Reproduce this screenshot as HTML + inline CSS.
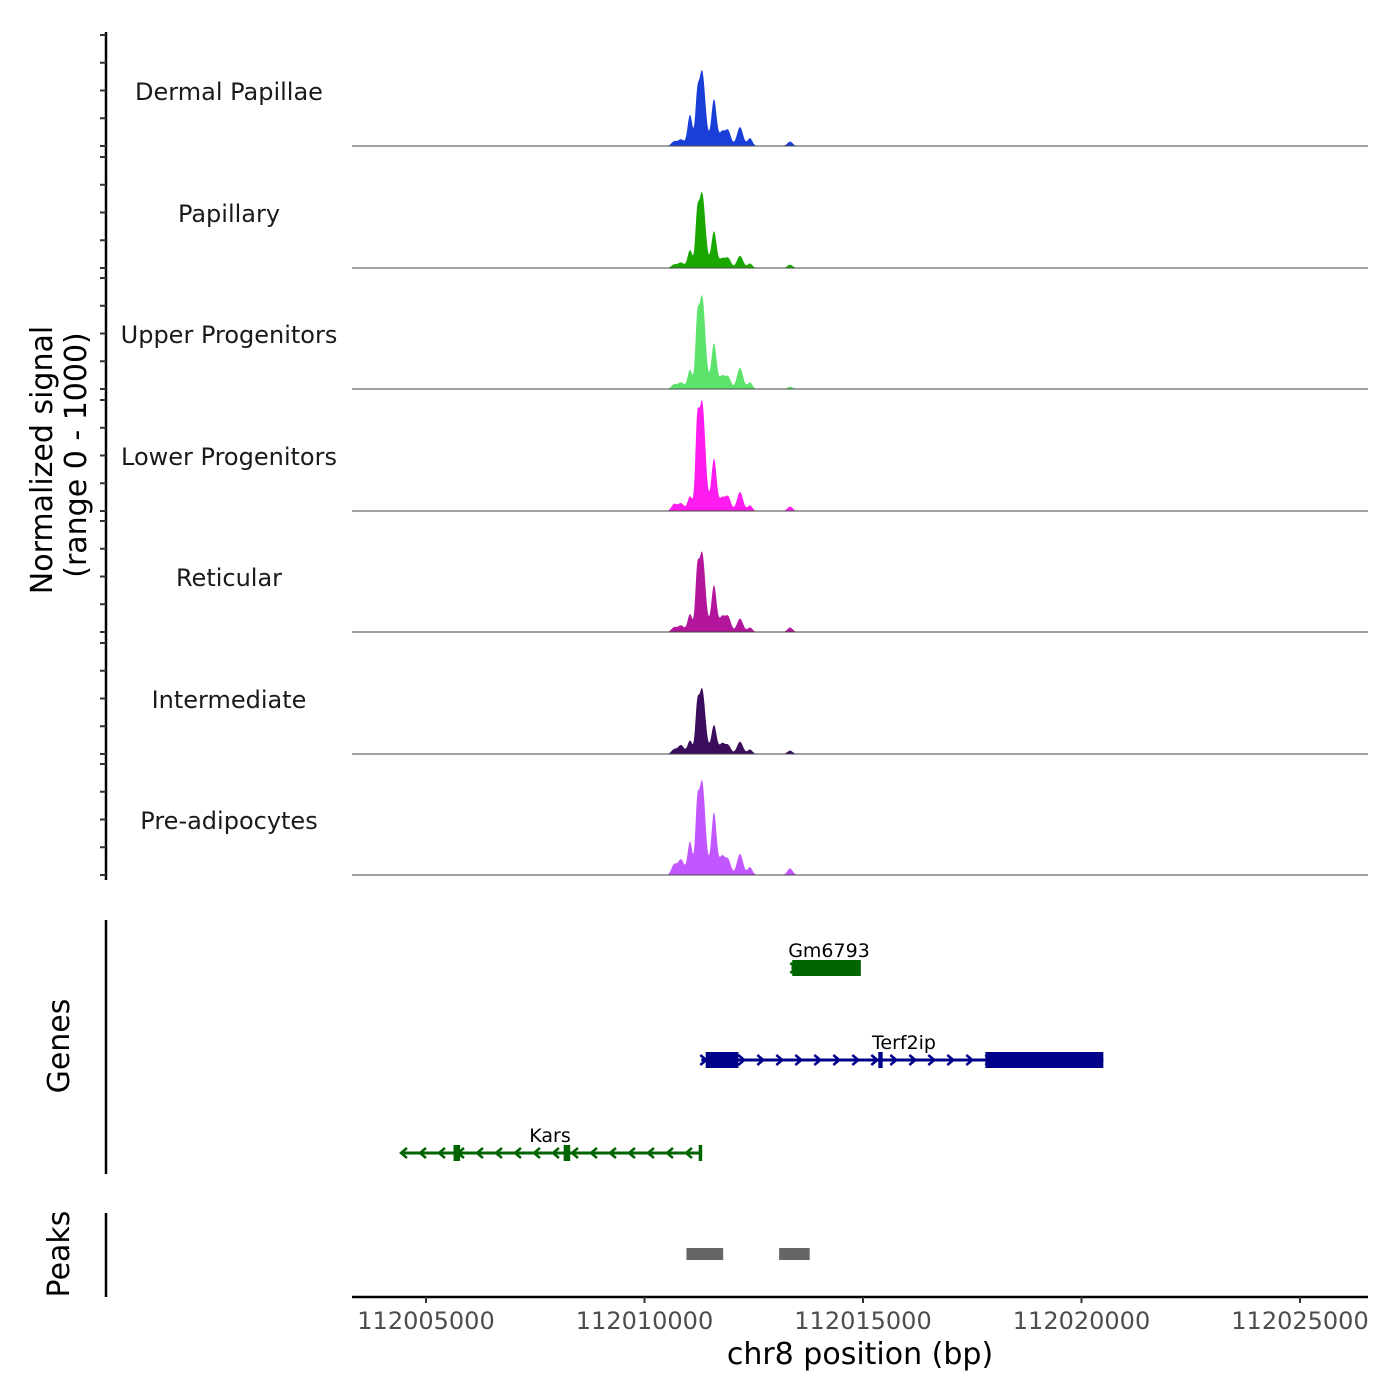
<!DOCTYPE html>
<html><head><meta charset="utf-8">
<style>
html,body{margin:0;padding:0;background:#fff;}
svg{display:block;font-family:"DejaVu Sans","Liberation Sans",sans-serif;}
</style></head>
<body>
<svg id="chart" width="1400" height="1400" viewBox="0 0 1400 1400">
<g id="tracks"></g>
<g id="yaxis"></g>
<text transform="translate(52,460) rotate(-90)" text-anchor="middle" font-size="30" fill="#000">Normalized signal</text>
<text transform="translate(86,455) rotate(-90)" text-anchor="middle" font-size="30" fill="#000">(range 0 - 1000)</text>
<line x1="106" y1="920" x2="106" y2="1174" stroke="#000" stroke-width="2.5"/>
<text transform="translate(69,1046) rotate(-90)" text-anchor="middle" font-size="30">Genes</text>
<line x1="106" y1="1213" x2="106" y2="1297" stroke="#000" stroke-width="2.5"/>
<text transform="translate(69,1254) rotate(-90)" text-anchor="middle" font-size="30">Peaks</text>
<g id="genes"></g>
<g id="peaks"></g>
<g id="xaxis"></g>
<text x="860" y="1364" text-anchor="middle" font-size="30">chr8 position (bp)</text>
</svg>
<script>
const trackNames = ["Dermal Papillae","Papillary","Upper Progenitors","Lower Progenitors","Reticular","Intermediate","Pre-adipocytes"];
const trackColors = ["#1a3fd9","#1aa800","#5de36b","#ff1cee","#b3169c","#3a0e5c","#c257ff"];
const peakCenters = [112010675,112010835,112011041,112011200,112011316,112011590,112011773,112011911,112012185,112012414,112013330];
const peakWidths = [60,70,55,40,75,60,60,65,70,55,60];
const sigDermalPapillae = [40,60,280,300,680,420,120,140,170,70,40];
const sigPapillary = [30,50,160,330,680,330,80,90,110,40,30];
const sigUpperProgenitors = [40,60,170,420,840,410,110,110,190,60,20];
const sigLowerProgenitors = [60,70,130,560,990,470,110,130,170,50,40];
const sigReticular = [40,60,160,380,720,420,130,140,120,40,40];
const sigIntermediate = [40,80,120,300,590,260,90,80,110,40,30];
const sigPreAdipocytes = [90,140,300,430,850,560,160,140,190,70,60];
const trackSignals = [sigDermalPapillae,sigPapillary,sigUpperProgenitors,sigLowerProgenitors,sigReticular,sigIntermediate,sigPreAdipocytes];
const xTicks = [112005000,112010000,112015000,112020000,112025000];
const xTickLabels = ["112005000","112010000","112015000","112020000","112025000"];
const geneNames = ["Gm6793","Terf2ip","Kars"];
const geneStarts = [112013360,112011300,112004450];
const geneEnds = [112014950,112020500,112011300];
const geneStrands = ["+","+","-"];
const geneColors = ["#006400","#00008b","#006400"];
const exonGene = [0,1,1,1,2,2,2];
const exonStarts = [112013380,112011400,112015350,112017800,112005630,112008150,112011240];
const exonEnds = [112014950,112012150,112015450,112020500,112005780,112008300,112011320];
const peakStarts = [112010960,112013080];
const peakEnds = [112011800,112013780];

const NS="http://www.w3.org/2000/svg";
function mk(tag,attrs,parent){const e=document.createElementNS(NS,tag);for(const k in attrs)e.setAttribute(k,attrs[k]);parent.appendChild(e);return e;}
const X0=352,X1=1368,B0=112005000,PX=0.0437;
function xs(bp){return 426+(bp-B0)*PX;}
const baselines=[146,268,389,511,632,754,875];
function ys(i,v){return baselines[i]-v*0.111;}

const tg=document.getElementById('tracks');
for(let i=0;i<trackNames.length;i++){
  let d="M"+X0+","+baselines[i];
  for(let x=X0;x<=X1;x+=0.5){
    const bp=B0+(x-426)/PX;
    let v=0;
    for(let k=0;k<peakCenters.length;k++){const z=(bp-peakCenters[k])/peakWidths[k];v+=trackSignals[i][k]*Math.exp(-0.5*z*z);}
    d+=" L"+x.toFixed(1)+","+ys(i,v).toFixed(2);
  }
  d+=" L"+X1+","+baselines[i]+" Z";
  const p=mk('path',{d:d,fill:trackColors[i]},tg);
  
  
  const bl=mk('line',{x1:X0,x2:X1,y1:baselines[i],y2:baselines[i],stroke:"#444","stroke-width":1},tg);
  
  
  const t=mk('text',{x:229,y:baselines[i]-46,"text-anchor":"middle","font-size":24,fill:"#1a1a1a"},tg);
  t.textContent=trackNames[i];
  
  
}
const ya=document.getElementById('yaxis');
const yl=mk('line',{x1:106,x2:106,y1:32,y2:880,stroke:"#000","stroke-width":2.5},ya);


for(let i=0;i<baselines.length;i++){
  for(let v=0;v<=1000;v+=250){
    const y=baselines[i]-v*0.111;
    const tk=mk('line',{x1:100,x2:106,y1:y,y2:y,stroke:"#333","stroke-width":2},ya);
    
    
  }
}
const gg=document.getElementById('genes');
const geneY=[968,1060,1153];
for(let g=0;g<geneNames.length;g++){
  const y=geneY[g],c=geneColors[g],a=xs(geneStarts[g]),b=xs(geneEnds[g]);
  const ln=mk('line',{x1:a,x2:b,y1:y,y2:y,stroke:c,"stroke-width":3},gg);
  
  
  for(let x=a+2;x<b-8;x+=19){
    const dir=geneStrands[g]=="+"?1:-1;
    const ar=mk('path',{d:`M${x-3*dir},${y-5} L${x+3*dir},${y} L${x-3*dir},${y+5}`,stroke:c,"stroke-width":2.5,fill:"none"},gg);
    
    
  }
  const lb=mk('text',{x:(g==1?904:g==0?829:550),y:y-11,"text-anchor":"middle","font-size":19,fill:"#000"},gg);
  lb.textContent=geneNames[g];
  
  
}
for(let e=0;e<exonStarts.length;e++){
  const g=exonGene[e],y=geneY[g];
  const r=mk('rect',{x:xs(exonStarts[e]),y:y-8,width:Math.max(3,xs(exonEnds[e])-xs(exonStarts[e])),height:16,fill:geneColors[g]},gg);
  
  
}
const pg=document.getElementById('peaks');
for(let p=0;p<peakStarts.length;p++){
  const r=mk('rect',{x:xs(peakStarts[p]),y:1248,width:xs(peakEnds[p])-xs(peakStarts[p]),height:12,fill:"#666"},pg);
  
  
}
const xa=document.getElementById('xaxis');
const xl=mk('line',{x1:X0,x2:X1,y1:1297,y2:1297,stroke:"#000","stroke-width":2.5},xa);


for(let i=0;i<xTicks.length;i++){
  const x=xs(xTicks[i]);
  const tk=mk('line',{x1:x,x2:x,y1:1297,y2:1303,stroke:"#333","stroke-width":2},xa);
  
  
  const t=mk('text',{x:x,y:1329,"text-anchor":"middle","font-size":24,fill:"#4d4d4d"},xa);
  t.textContent=xTickLabels[i];
  
  
}
</script>
</body></html>
